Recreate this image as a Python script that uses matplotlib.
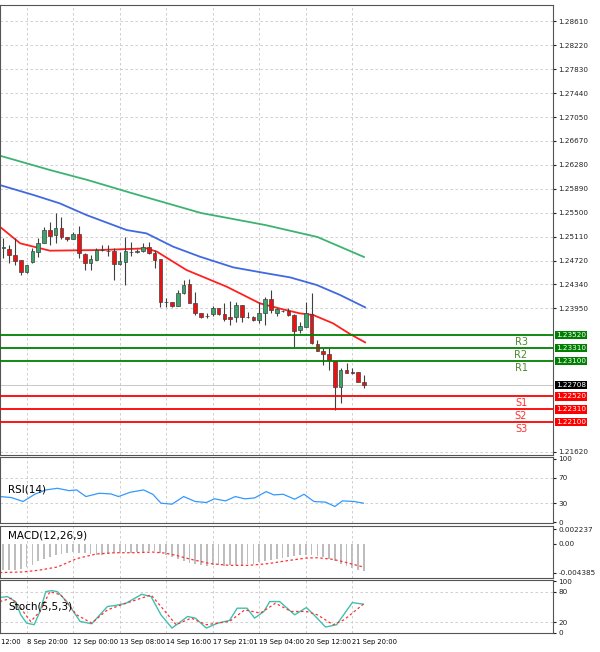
import matplotlib
matplotlib.use("Agg")
import matplotlib.pyplot as plt
import numpy as np

# ---------------- data ----------------
opens = [1.24934,1.24912,1.24815,1.24734,1.24544,1.24707,1.24869,1.25004,1.25220,1.25139,
         1.25258,1.25101,1.25069,1.25155,1.24831,1.24690,1.24734,1.24896,1.24885,1.24880,
         1.24669,1.24707,1.24858,1.24858,1.24880,1.24950,1.24842,1.24744,1.24047,1.24047,
         1.23987,1.24204,1.24339,1.24042,1.23868,1.23822,1.23852,1.23950,1.23852,1.23815,
         1.23815,1.24004,1.23809,1.23815,1.23760,1.23868,1.24101,1.23879,1.23906,1.23906,
         1.23841,1.23598,1.23652,1.23852,1.23371,1.23263,1.23204,1.23096,1.22679,1.22950,
         1.22923,1.22912,1.22761]
closes = [1.24934,1.24815,1.24717,1.24544,1.24653,1.24885,1.25004,1.25220,1.25123,1.25247,
          1.25101,1.25069,1.25155,1.24842,1.24690,1.24750,1.24896,1.24900,1.24875,1.24669,
          1.24717,1.24880,1.24862,1.24885,1.24950,1.24842,1.24734,1.24058,1.24050,1.23987,
          1.24204,1.24328,1.24042,1.23879,1.23815,1.23828,1.23950,1.23852,1.23771,1.23771,
          1.24004,1.23804,1.23812,1.23760,1.23879,1.24096,1.23922,1.23933,1.23910,1.23841,
          1.23587,1.23663,1.23868,1.23382,1.23263,1.23204,1.23112,1.22679,1.22950,1.22907,
          1.22896,1.22761,1.22708]
highs = [1.25085,1.24977,1.25085,1.24734,1.24653,1.24923,1.25085,1.25274,1.25355,1.25491,
         1.25436,1.25112,1.25193,1.25285,1.24842,1.24815,1.24923,1.24977,1.24977,1.24923,
         1.24869,1.25112,1.25031,1.24910,1.25004,1.25031,1.24896,1.24744,1.24112,1.24060,
         1.24247,1.24409,1.24420,1.24220,1.23880,1.23868,1.23987,1.23960,1.24031,1.24074,
         1.24058,1.24010,1.23895,1.23830,1.24058,1.24128,1.24247,1.23950,1.23930,1.23950,
         1.23850,1.23733,1.24058,1.24204,1.23436,1.23301,1.23301,1.23100,1.22990,1.23058,
         1.22977,1.22923,1.22869]
lows = [1.24761,1.24680,1.24653,1.24490,1.24517,1.24680,1.24788,1.25004,1.24977,1.25004,
        1.25080,1.25050,1.25069,1.24761,1.24571,1.24571,1.24734,1.24880,1.24798,1.24409,
        1.24653,1.24328,1.24798,1.24850,1.24870,1.24830,1.24598,1.23977,1.23977,1.23970,
        1.23980,1.24190,1.24030,1.23841,1.23787,1.23787,1.23825,1.23845,1.23750,1.23679,
        1.23733,1.23733,1.23800,1.23750,1.23717,1.23679,1.23868,1.23825,1.23890,1.23830,
        1.23328,1.23544,1.23640,1.23370,1.23250,1.23031,1.22950,1.22301,1.22409,1.22900,
        1.22890,1.22750,1.22652]

ma_green_x = [-1, 8, 14.5, 22, 34, 45, 54, 62]
ma_green = [1.26437, 1.26194, 1.26031, 1.25821, 1.25496, 1.25302, 1.25107, 1.24783]
ma_blue_x = [-0.6, 5.2, 9.7, 14.3, 21.2, 24.6, 29.2, 33.8, 39.5, 45.3, 49.3, 53.9, 57.9, 62.2]
ma_blue = [1.25950, 1.25788, 1.25653, 1.25463, 1.25220, 1.25166, 1.24950, 1.24788,
           1.24615, 1.24517, 1.24452, 1.24328, 1.24166, 1.23966]
ma_red_x = [-0.6, 2.9, 8.0, 16.6, 24.6, 26.4, 31.5, 38.4, 44.1, 48.1, 51.0, 53.3, 56.7, 59.6, 62.2]
ma_red = [1.25274, 1.25004, 1.24885, 1.24896, 1.24923, 1.24869, 1.24571, 1.24301,
          1.24031, 1.23933, 1.23868, 1.23841, 1.23706, 1.23533, 1.23398]

res_levels = [1.23520, 1.23310, 1.23100]
res_names = ["R3", "R2", "R1"]
sup_levels = [1.22520, 1.22310, 1.22100]
sup_names = ["S1", "S2", "S3"]
last_price = 1.22708
price_ticks = [1.28610, 1.28220, 1.27830, 1.27440, 1.27050, 1.26670, 1.26280, 1.25890,
               1.25500, 1.25110, 1.24720, 1.24340, 1.23950, 1.21620]

rsi_x = [-0.6,1.4,3.4,5.4,7.3,9.3,11.3,12.6,14.2,16.5,18.5,19.8,21.8,24.1,25.7,27.1,29.0,31.0,
         33.0,34.9,36.3,38.2,39.9,41.5,43.2,45.2,46.5,48.1,50.1,51.7,53.4,55.4,57.0,58.3,60.3,61.9]
rsi = [40.4,38.8,32.6,44.0,50.8,53.4,49.7,50.8,40.4,45.6,44.5,40.4,47.1,50.8,44.0,30.0,28.4,
       40.4,32.6,31.0,36.8,33.6,40.4,36.8,38.2,48.2,43.0,44.0,36.2,44.0,32.6,31.6,24.8,33.6,32.6,30.0]

macd_hist = [-0.00403,-0.00403,-0.00393,-0.00378,-0.00358,-0.00318,-0.00267,-0.00227,-0.00202,-0.00166,
             -0.00156,-0.00141,-0.00126,-0.00136,-0.00146,-0.00156,-0.00166,-0.00176,-0.00161,-0.00146,
             -0.00136,-0.00126,-0.00136,-0.00131,-0.00121,-0.00111,-0.00116,-0.00141,-0.00171,-0.00202,
             -0.00227,-0.00257,-0.00287,-0.00307,-0.00328,-0.00333,-0.00328,-0.00328,-0.00333,-0.00328,
             -0.00328,-0.00323,-0.00312,-0.00302,-0.00282,-0.00267,-0.00247,-0.00227,-0.00212,-0.00197,
             -0.00186,-0.00176,-0.00171,-0.00176,-0.00192,-0.00207,-0.00237,-0.00267,-0.00302,-0.00338,
             -0.00368,-0.00393,-0.00418]
sig_x = [-0.6,3.4,6.0,9.3,12.6,15.9,19.2,22.5,25.7,27.7,29.7,32.3,35.6,38.9,42.2,45.5,48.8,52.1,54.0,56.7,58.6,61.9]
macd_sig = [-0.00438,-0.00428,-0.00403,-0.00353,-0.00227,-0.00156,-0.00136,-0.00136,-0.00126,-0.00141,
            -0.00176,-0.00237,-0.00302,-0.00328,-0.00328,-0.00302,-0.00257,-0.00217,-0.00212,-0.00237,
            -0.00277,-0.00353]

st_x = [-0.6,0.7,2.1,3.0,4.0,5.3,6.3,7.3,8.3,9.3,10.9,13.2,15.2,17.9,19.2,21.1,23.8,25.4,27.1,
        29.0,31.7,33.0,34.9,36.9,38.9,40.2,41.9,43.2,44.8,45.8,47.5,50.1,52.1,53.4,55.4,57.3,60.0,61.9]
st_k = [68.4,70.3,60.6,34.8,18.7,15.5,41.3,80.0,81.9,80.0,60.6,21.9,17.4,51.0,52.9,57.4,74.8,70.3,
        34.8,9.0,31.6,28.4,9.0,18.7,23.9,47.7,47.7,28.4,41.3,60.6,60.6,34.8,49.0,34.8,11.0,15.5,58.7,55.5]
sd_x = [-0.6,1.4,3.0,4.7,6.3,8.0,9.9,12.6,15.2,17.9,21.1,25.4,27.1,29.7,32.3,34.9,38.9,41.5,44.2,
        46.8,49.5,52.1,54.0,56.7,58.6,61.9]
st_d = [60.6,67.1,47.7,21.9,41.3,80.0,73.5,34.8,18.7,44.5,57.4,73.5,51.0,15.5,28.4,15.5,21.9,44.5,
        38.1,57.4,41.3,41.3,34.8,15.5,25.2,55.5]

tick_idx = [-4, 4, 12, 20, 28, 36, 44, 52, 60]
tick_lbl = ["7 Sep 12:00", "8 Sep 20:00", "12 Sep 00:00", "13 Sep 08:00", "14 Sep 16:00",
            "17 Sep 21:01", "19 Sep 04:00", "20 Sep 12:00", "21 Sep 20:00"]

# ---------------- plotting ----------------
W, H = 600, 652
fig = plt.figure(figsize=(6.0, 6.52), dpi=100)
XL = (-0.57, 94.5)
grid_kw = dict(color="#c8c8c8", linestyle=(0, (3, 3)), linewidth=0.6)

def panel(top, bot):
    ax = fig.add_axes([0, 1 - bot / H, 553 / W, (bot - top) / H])
    ax.yaxis.tick_right()
    ax.tick_params(axis="y", labelsize=5.2, length=2, pad=2, colors="#222222")
    ax.tick_params(axis="x", length=0, labelbottom=False)
    ax.set_xticks(tick_idx)
    ax.set_xlim(*XL)
    ax.grid(True, **grid_kw)
    for s in ax.spines.values():
        s.set_color("#555555"); s.set_linewidth(0.8)
    return ax

ax = panel(5, 455)
ax.set_ylim(1.21571, 1.28870)
ax.set_yticks(price_ticks)
ax.set_yticklabels([f"{v:.5f}" for v in price_ticks])

idx = np.arange(len(opens))
o = np.array(opens); c = np.array(closes)
ax.vlines(idx, lows, highs, color="#404040", linewidth=0.8, zorder=3)
up = c >= o
body = np.where(np.abs(c - o) < 0.00004, 0.00004, c - o)
ax.bar(idx[up], body[up], bottom=o[up], width=0.62, color="#3aa46a", edgecolor="#404040",
       linewidth=0.5, zorder=4)
ax.bar(idx[~up], body[~up], bottom=o[~up], width=0.62, color="#ee1111", edgecolor="#404040",
       linewidth=0.5, zorder=4)

ax.plot(ma_green_x, ma_green, color="#3cb371", lw=1.3, zorder=2)
ax.plot(ma_blue_x, ma_blue, color="#4169e1", lw=1.3, zorder=2)
ax.plot(ma_red_x, ma_red, color="#ff2020", lw=1.3, zorder=2)

for lv, nm in zip(res_levels, res_names):
    ax.axhline(lv, color="#008000", lw=1.3, zorder=5)
    ax.text(89, lv - 0.0003, nm, color="#4a8a2a", fontsize=7, ha="center", va="top")
    ax.text(1.005, lv, f"{lv:.5f}", transform=ax.get_yaxis_transform(), fontsize=5.2,
            color="white", va="center", ha="left",
            bbox=dict(boxstyle="square,pad=0.15", fc="#008000", ec="none"))
for lv, nm in zip(sup_levels, sup_names):
    ax.axhline(lv, color="#ff0000", lw=1.3, zorder=5)
    ax.text(89, lv - 0.0003, nm, color="#ff3030", fontsize=7, ha="center", va="top")
    ax.text(1.005, lv, f"{lv:.5f}", transform=ax.get_yaxis_transform(), fontsize=5.2,
            color="white", va="center", ha="left",
            bbox=dict(boxstyle="square,pad=0.15", fc="#ff0000", ec="none"))
ax.axhline(last_price, color="#c0c0c0", lw=0.6, zorder=1)
ax.text(1.005, last_price, f"{last_price:.5f}", transform=ax.get_yaxis_transform(), fontsize=5.2,
        color="white", va="center", ha="left",
        bbox=dict(boxstyle="square,pad=0.15", fc="#000000", ec="none"))

# RSI
ar = panel(457, 523)
ar.set_ylim(-1.2, 102.6)
ar.set_yticks([0, 30, 70, 100])
ar.grid(False); ar.grid(True, axis="x", **grid_kw)
for lv in (30, 70):
    ar.axhline(lv, **grid_kw)
ar.plot(rsi_x, rsi, color="#3399ff", lw=0.9)
ar.text(8 / 553, 0.5, "RSI(14)", transform=ar.transAxes, fontsize=7.5, va="center")

# MACD
am = panel(526, 578)
am.set_ylim(-0.0052, 0.0027)
am.set_yticks([0.002237, 0.0, -0.004385])
am.set_yticklabels(["0.002237", "0.00", "-0.004385"])
am.grid(False); am.grid(True, axis="x", **grid_kw)
am.bar(idx, macd_hist, width=0.3, color="#bdbdbd")
am.plot(sig_x, macd_sig, color="#ff3030", lw=0.9, linestyle=(0, (2, 2)))
am.text(8 / 553, 0.82, "MACD(12,26,9)", transform=am.transAxes, fontsize=7.5, va="center")

# Stoch
ast = panel(580, 633)
ast.set_ylim(-0.6, 102.6)
ast.set_yticks([0, 20, 80, 100])
ast.grid(False); ast.grid(True, axis="x", **grid_kw)
for lv in (20, 80):
    ast.axhline(lv, **grid_kw)
ast.plot(st_x, st_k, color="#40c0b0", lw=1.0)
ast.plot(sd_x, st_d, color="#ff3030", lw=0.9, linestyle=(0, (2, 2)))
ast.text(8 / 553, 0.5, "Stoch(5,5,3)", transform=ast.transAxes, fontsize=7.5, va="center")
for t, lbl in zip(tick_idx, tick_lbl):
    ast.text(t, -12, lbl, fontsize=4.9, ha="left", va="top", clip_on=False)

fig.savefig("out.png", dpi=100)
